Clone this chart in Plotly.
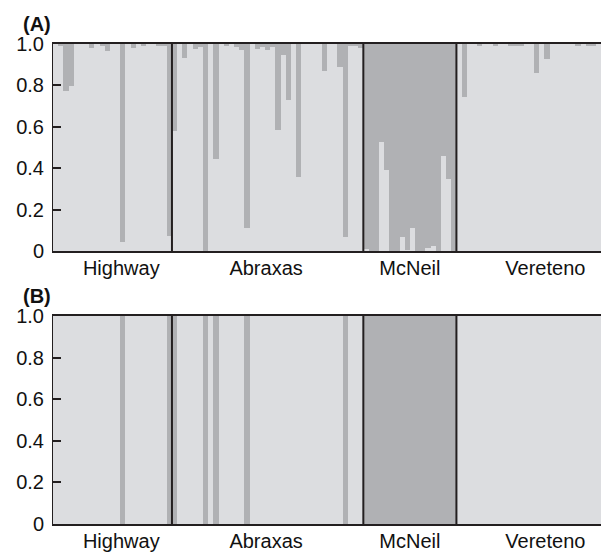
import plotly.graph_objects as go

# ---- data ----
groups = ["Highway", "Abraxas", "McNeil", "Vereteno"]

# panel A: membership in cluster 1 (light) per individual
highway_a = [1.0, 0.99, 0.773, 0.799, 1.0, 1.0, 1.0, 0.98, 1.0, 0.99, 0.968, 1.0,
             1.0, 0.045, 1.0, 0.98, 1.0, 0.99, 1.0, 1.0, 0.99, 0.99, 0.072]
abraxas_a = [0.581, 1.0, 0.93, 1.0, 0.975, 0.985, 0.0, 1.0, 0.446, 1.0, 0.99, 1.0,
             0.985, 0.97, 0.111, 1.0, 0.976, 0.984, 0.971, 0.984, 0.585, 0.947,
             0.73, 1.0, 0.359, 1.0, 1.0, 1.0, 1.0, 0.871, 1.0, 1.0, 0.89, 0.068,
             0.99, 0.99, 0.982]
mcneil_a = [0.008, 0.0, 0.0, 0.527, 0.391, 0.0, 0.0, 0.068, 0.005, 0.111, 0.0, 0.0,
            0.015, 0.024, 0.0, 0.459, 0.348, 0.0]
vereteno_a = [1.0, 0.744, 1.0, 1.0, 0.993, 1.0, 1.0, 0.993, 1.0, 1.0, 0.993, 0.993,
              0.99, 1.0, 1.0, 0.861, 1.0, 0.929, 1.0, 1.0, 1.0, 1.0, 1.0, 0.993,
              1.0, 0.99, 0.99, 1.0, 0.99, 1.0]

# panel B: hard assignment
highway_b = [1, 1, 1, 1, 1, 1, 1, 1, 1, 1, 1, 1, 1, 0, 1, 1, 1, 1, 1, 1, 1, 1, 0]
abraxas_b = [0, 1, 1, 1, 1, 1, 0, 1, 0, 1, 1, 1, 1, 1, 0, 1, 1, 1, 1, 1, 1, 1,
             1, 1, 1, 1, 1, 1, 1, 1, 1, 1, 1, 0, 1, 1, 1]
mcneil_b = [0] * 18
vereteno_b = [1] * 30

yticks = [0, 0.2, 0.4, 0.6, 0.8, 1.0]
yticklabels = ["0", "0.2", "0.4", "0.6", "0.8", "1.0"]

# ---- styling ----
LIGHT = "#dcdde0"
DARK = "#b0b1b4"
INK = "#231f20"
FONT = "Liberation Sans"

panel_a = highway_a + abraxas_a + mcneil_a + vereteno_a
panel_b = highway_b + abraxas_b + mcneil_b + vereteno_b
counts = [len(highway_a), len(abraxas_a), len(mcneil_a), len(vereteno_a)]
n = len(panel_a)
xs = list(range(n))

edges = []
c = 0
for k in counts:
    c += k
    edges.append(c - 0.5)
starts = [0] + [int(e + 0.5) for e in edges[:-1]]
centers = [(s + s + k - 1) / 2 for s, k in zip(starts, counts)]
label_shift = [1.7, -0.3, 0.0, 2.2]
label_pos = [cc + d for cc, d in zip(centers, label_shift)]

fig = go.Figure()
for vals, xa, ya in [(panel_a, "x", "y"), (panel_b, "x2", "y2")]:
    fig.add_trace(go.Bar(x=xs, y=vals, marker=dict(color=LIGHT, line=dict(width=0)),
                         width=1.0, xaxis=xa, yaxis=ya, showlegend=False))
    fig.add_trace(go.Bar(x=xs, y=[1 - v for v in vals],
                         marker=dict(color=DARK, line=dict(width=0)),
                         width=1.0, xaxis=xa, yaxis=ya, showlegend=False))

xrange = [-0.5, 107.0]
common_x = dict(range=xrange, showgrid=False, zeroline=False, showline=True,
                mirror=True, linecolor=INK, linewidth=1.5, ticks="",
                tickvals=label_pos, ticktext=groups, ticklabelstandoff=-2,
                automargin=False,
                tickfont=dict(family=FONT, size=20, color="#111"))
common_y = dict(range=[0, 1], showgrid=False, zeroline=False, showline=True,
                linecolor=INK, linewidth=1, ticks="inside", ticklen=8,
                tickwidth=1.5, tickcolor=INK, mirror="ticks",
                tickvals=yticks, ticktext=yticklabels, ticklabelstandoff=4,
                automargin=False,
                tickfont=dict(family=FONT, size=20, color="#111"))

# page body has an 8px margin, so the figure is laid out in page px minus 8
OFF = 8
W, H = 609 - OFF, 553 - OFF
L = 53 - OFF


def ydom(top_px, bot_px):
    return [(H - (bot_px - OFF)) / H, (H - (top_px - OFF)) / H]


fig.update_layout(
    width=W, height=H,
    margin=dict(l=L, r=0, t=0, b=0, autoexpand=False),
    paper_bgcolor="white", plot_bgcolor="white",
    barmode="stack", bargap=0,
    xaxis=dict(common_x, anchor="y"),
    yaxis=dict(common_y, domain=ydom(44, 251)),
    xaxis2=dict(common_x, anchor="y2"),
    yaxis2=dict(common_y, domain=ydom(316, 524)),
)

for xr, yr in [("x", "y"), ("x2", "y2")]:
    for e in edges[:-1]:
        fig.add_shape(type="line", xref=xr, yref=yr, x0=e, x1=e, y0=0, y1=1,
                      line=dict(color=INK, width=2))

plot_w = W - L
for txt, ypx in [("(A)", 24), ("(B)", 296)]:
    fig.add_annotation(text="<b>" + txt + "</b>", xref="paper", yref="paper",
                       x=(37 - 53) / plot_w, y=(H - (ypx - OFF)) / H,
                       showarrow=False, xanchor="center", yanchor="middle",
                       font=dict(family=FONT, size=20, color="#111"))

fig.write_html("out.html")
